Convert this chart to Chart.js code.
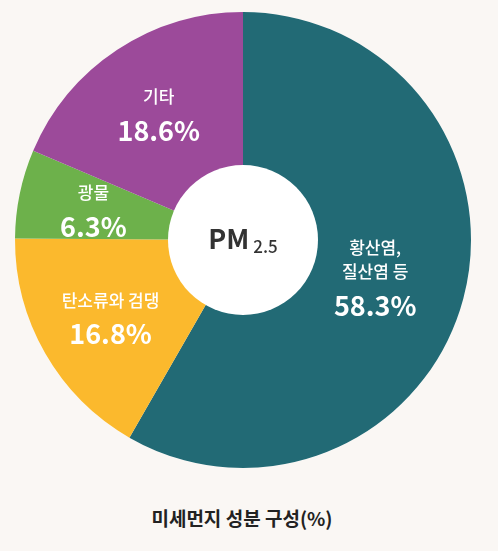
<!DOCTYPE html>
<html><head><meta charset="utf-8">
<script src="https://cdn.jsdelivr.net/npm/chart.js@4"></script>
<style>
body{margin:0;background:#faf7f4;width:498px;height:551px;overflow:hidden;font-family:"Noto Sans CJK KR","Noto Sans",sans-serif}
#wrap{position:absolute;left:0;top:0;width:498px;height:480px}
#title{position:absolute;left:0;width:484px;top:504px;text-align:center;font-size:19px;font-weight:bold;color:#222}
</style></head><body>
<div id="wrap"><canvas id="c"></canvas></div>
<div id="title">미세먼지 성분 구성(%)</div>
<script>
const categories=[["황산염,","질산염 등"],["탄소류와 검댕"],["광물"],["기타"]];
const values=[58.3,16.8,6.3,18.6];
const colors=['#226a75','#fbb92d','#6db14b','#9c4a9a'];
const labelPlugin={id:'lbl',afterDatasetsDraw(chart){
  const ctx=chart.ctx, meta=chart.getDatasetMeta(0);
  meta.data.forEach((arc,i)=>{
    const a=(arc.startAngle+arc.endAngle)/2, f=i===0?0.6:0.67, r=arc.outerRadius*f;
    const x=arc.x+Math.cos(a)*r, y=arc.y+Math.sin(a)*r;
    ctx.save();ctx.fillStyle='#fff';ctx.textAlign='center';ctx.textBaseline='middle';
    const lines=categories[i];
    ctx.font='500 17px "Noto Sans CJK KR"';
    const total=lines.length*24+32;let yy=y-total/2+12;
    lines.forEach(l=>{ctx.fillText(l,x,yy);yy+=24;});
    ctx.font='bold 27px "Noto Sans CJK KR"';
    ctx.fillText(values[i].toFixed(1)+'%',x,yy+10);
    ctx.restore();
  });
  const a0=meta.data[0];
  ctx.save();ctx.beginPath();ctx.arc(a0.x,a0.y,75,0,Math.PI*2);ctx.fillStyle='#fff';ctx.fill();
  ctx.fillStyle='#333';ctx.textBaseline='alphabetic';ctx.textAlign='left';
  ctx.font='bold 27px "Noto Sans CJK KR"';const w=ctx.measureText('PM').width;
  ctx.font='500 17px "Noto Sans CJK KR"';const w2=ctx.measureText('2.5').width;
  const sx=a0.x-(w+4+w2)/2;
  ctx.font='bold 27px "Noto Sans CJK KR"';ctx.fillText('PM',sx,a0.y+9);
  ctx.font='500 17px "Noto Sans CJK KR"';ctx.fillText('2.5',sx+w+4,a0.y+13);
  ctx.restore();
}};
new Chart(document.getElementById('c'),{type:'pie',
 data:{labels:categories.map(c=>c.join(' ')),datasets:[{data:values,backgroundColor:colors,borderColor:'#fff',borderWidth:[0,0,0,0]}]},
 options:{responsive:true,maintainAspectRatio:false,animation:false,
  layout:{padding:{top:12,bottom:12,left:0,right:12}},
  plugins:{legend:{display:false},tooltip:{enabled:false}}},
 plugins:[{id:'ring',beforeDatasetsDraw(chart){const a=chart.getDatasetMeta(0).data[0];const c=chart.ctx;c.save();c.beginPath();c.arc(a.x,a.y,a.outerRadius,0,Math.PI*2);c.fillStyle='#fff';c.fill();c.restore();a.outerRadius;}},labelPlugin]
});
</script></body></html>
